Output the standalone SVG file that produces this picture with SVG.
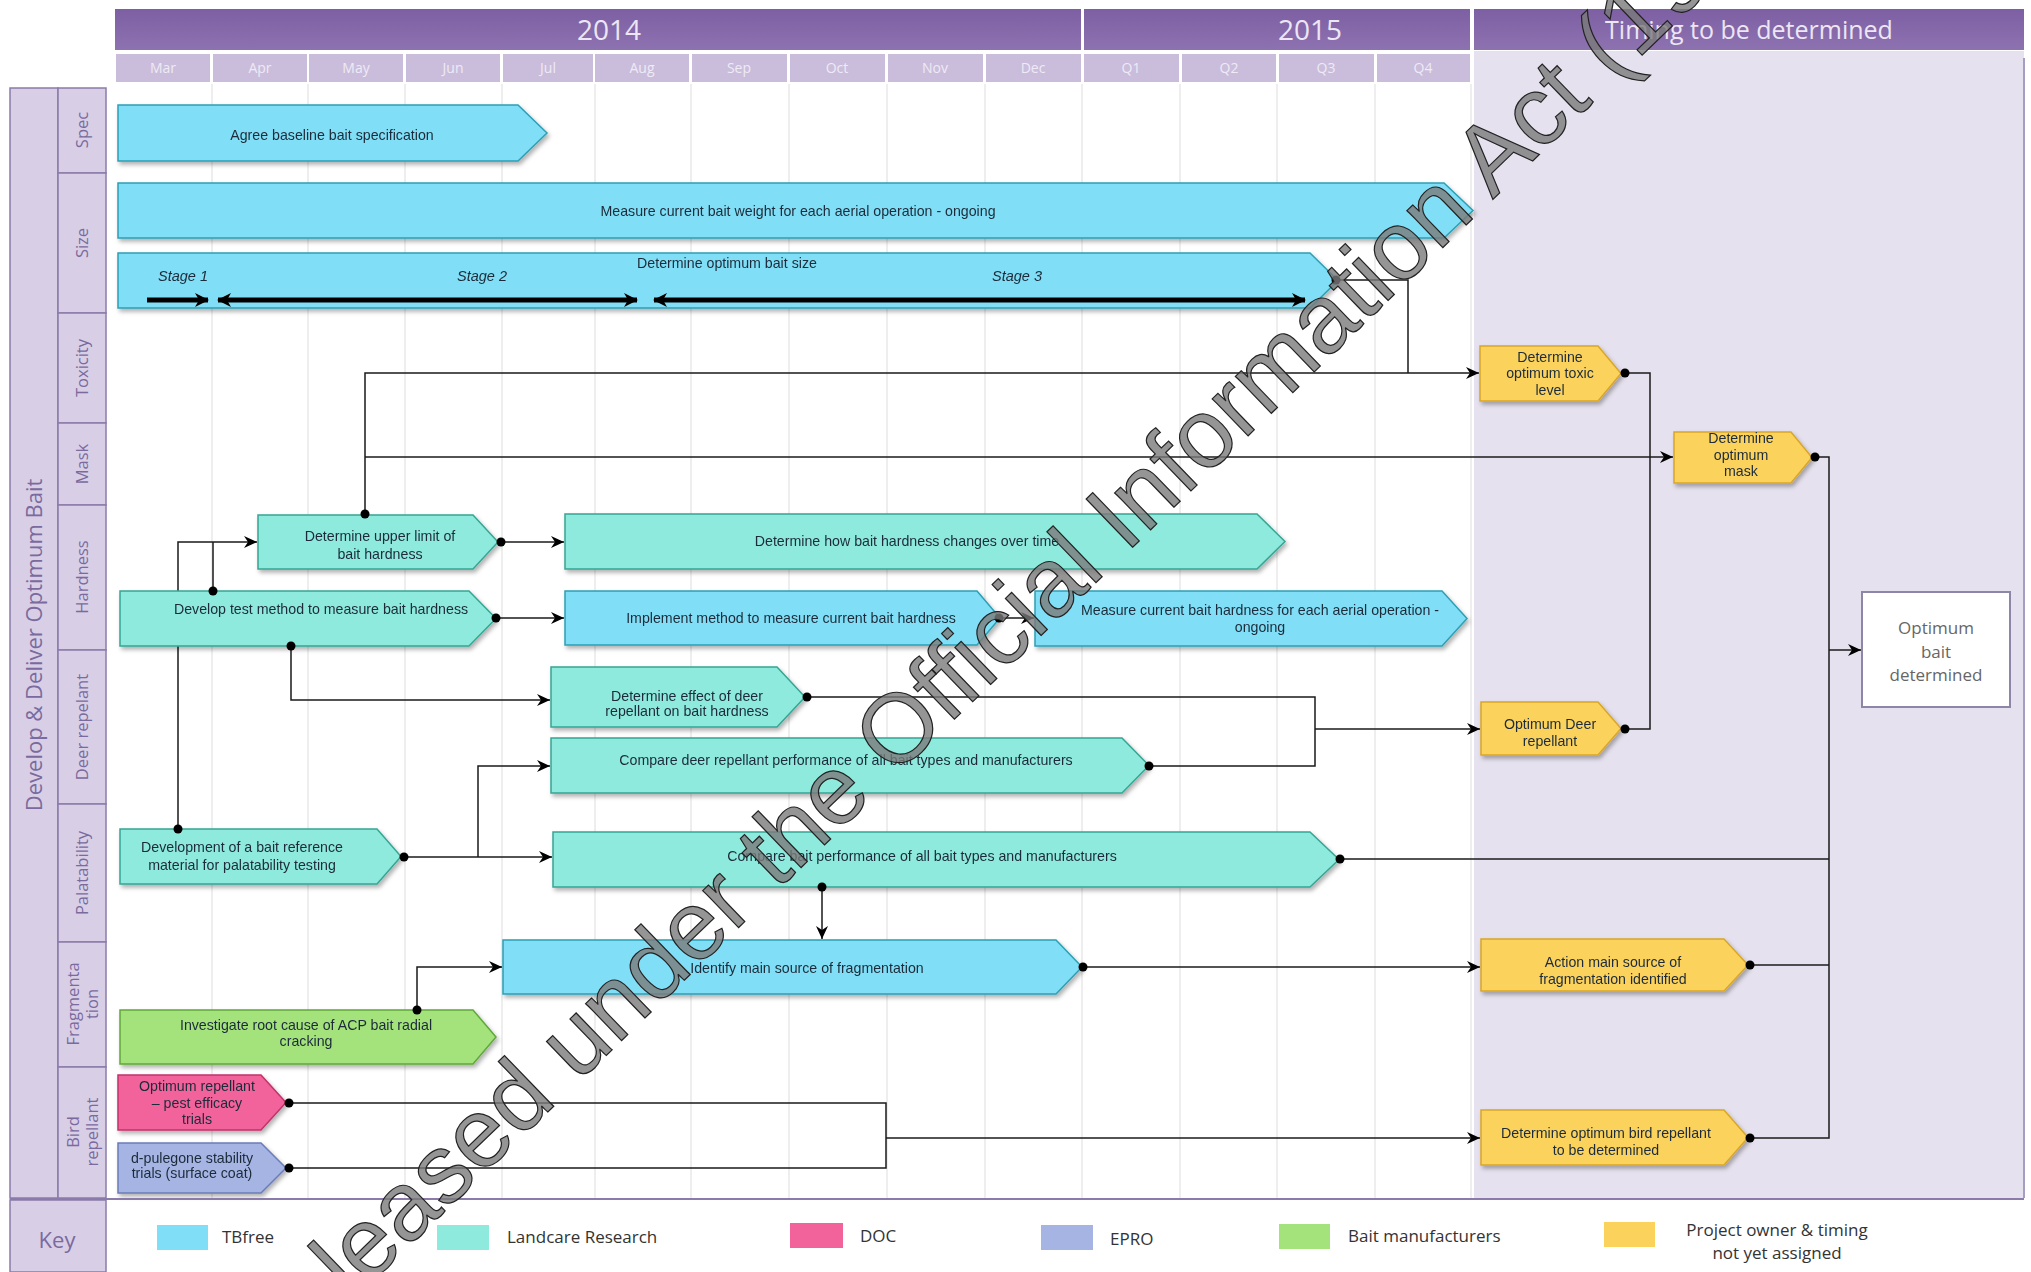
<svg xmlns="http://www.w3.org/2000/svg" width="2031" height="1272" viewBox="0 0 2031 1272">
<defs>
<style>
.tb{fill:#80dff6;stroke:#2d9fb4;stroke-width:1.5}
.lc{fill:#8eeadc;stroke:#36a594;stroke-width:1.5}
.gd{fill:#fbd35c;stroke:#d9a628;stroke-width:1.5}
.pk{fill:#f2639b;stroke:#c1336b;stroke-width:1.5}
.ep{fill:#a5b4e3;stroke:#6b7cb8;stroke-width:1.5}
.gr{fill:#a4e27b;stroke:#60a83b;stroke-width:1.5}
.nt{font-family:'Liberation Sans',Arial,sans-serif;font-size:14.2px;fill:#1c2b3a;text-anchor:middle}
.st{font-family:'Liberation Sans',Arial,sans-serif;font-size:14.5px;font-style:italic;fill:#1c2b3a;text-anchor:middle}
.ln{fill:none;stroke:#1a1a1a;stroke-width:1.5}
.ar{fill:none;stroke:#1a1a1a;stroke-width:1.5;marker-end:url(#ah)}
.stg{fill:none;stroke:#000;stroke-width:5}
.yr{font-family:'Open Sans',sans-serif;font-size:28px;fill:#ece6f5;text-anchor:middle}
.tm{font-family:'Open Sans',sans-serif;font-size:25px;fill:#ece6f5;text-anchor:middle}
.mo{font-family:'Open Sans',sans-serif;font-size:14px;fill:#efeaf6;text-anchor:middle}
.mc{fill:#c9bddb}
.lane{fill:#d8cfe7;stroke:#8a7bab;stroke-width:1.5}
.lt{font-family:'Open Sans',sans-serif;font-size:16.5px;fill:#7a6a9e;text-anchor:middle}
.big{font-family:'Open Sans',sans-serif;font-size:22px;fill:#7a6a9e;text-anchor:middle}
.kt{font-family:'Open Sans',sans-serif;font-size:17px;fill:#333;}
.ktc{font-family:'Open Sans',sans-serif;font-size:17px;fill:#333;text-anchor:middle}
.ob{font-family:'Open Sans',sans-serif;font-size:17px;fill:#666;text-anchor:middle}
.grid{stroke:#e3e3e3;stroke-width:1.2}
.sh{filter:url(#shadow)}
.wm{font-family:'Liberation Sans',Arial,sans-serif;font-size:97.5px;fill:#7a7a7a;fill-opacity:0.8;stroke:#222;stroke-width:1.2}
</style>
<filter id="shadow" x="-5%" y="-20%" width="115%" height="150%">
<feDropShadow dx="2" dy="3" stdDeviation="2" flood-color="#000" flood-opacity="0.3"/>
</filter>
<marker id="ah" markerWidth="14" markerHeight="14" refX="13" refY="7" orient="auto" markerUnits="userSpaceOnUse">
<path d="M0,1 L13,7 L0,13 L4,7 Z" fill="#000"/>
</marker>
<marker id="sa" markerWidth="14" markerHeight="14" refX="13" refY="7" orient="auto-start-reverse" markerUnits="userSpaceOnUse">
<path d="M0,0 L14,7 L0,14 L4,7 Z" fill="#000"/>
</marker>
<linearGradient id="hdr" x1="0" y1="0" x2="0" y2="1">
<stop offset="0" stop-color="#7d5fa3"/>
<stop offset="1" stop-color="#8d72b0"/>
</linearGradient>
</defs>
<rect x="0" y="0" width="2031" height="1272" fill="#ffffff"/>

<g id="timing-column">
<rect x="1474" y="51" width="550" height="1147" fill="#e5e1ee"/>
<line x1="2024" y1="58" x2="2024" y2="1198" stroke="#a79dbf" stroke-width="2"/>
</g>

<g id="grid">
<line class="grid" x1="212" y1="84" x2="212" y2="1198"/>
<line class="grid" x1="308" y1="84" x2="308" y2="1198"/>
<line class="grid" x1="405" y1="84" x2="405" y2="1198"/>
<line class="grid" x1="502" y1="84" x2="502" y2="1198"/>
<line class="grid" x1="595" y1="84" x2="595" y2="1198"/>
<line class="grid" x1="691" y1="84" x2="691" y2="1198"/>
<line class="grid" x1="789" y1="84" x2="789" y2="1198"/>
<line class="grid" x1="887" y1="84" x2="887" y2="1198"/>
<line class="grid" x1="985" y1="84" x2="985" y2="1198"/>
<line class="grid" x1="1082" y1="84" x2="1082" y2="1198"/>
<line class="grid" x1="1180" y1="84" x2="1180" y2="1198"/>
<line class="grid" x1="1277" y1="84" x2="1277" y2="1198"/>
<line class="grid" x1="1375" y1="84" x2="1375" y2="1198"/>
<line class="grid" x1="1471" y1="84" x2="1471" y2="1198"/>
</g>

<g id="header">
<rect x="115" y="9" width="966" height="41" fill="url(#hdr)"/>
<rect x="1084" y="9" width="386" height="41" fill="url(#hdr)"/>
<rect x="1474" y="9" width="550" height="41" fill="url(#hdr)"/>
<text class="yr" x="609" y="40">2014</text>
<text class="yr" x="1310" y="40">2015</text>
<text class="tm" x="1749" y="39">Timing to be determined</text>
<rect class="mc" x="116" y="54" width="94" height="28"/>
<rect class="mc" x="213" y="54" width="94" height="28"/>
<rect class="mc" x="309" y="54" width="94" height="28"/>
<rect class="mc" x="406" y="54" width="94" height="28"/>
<rect class="mc" x="503" y="54" width="90" height="28"/>
<rect class="mc" x="595" y="54" width="94" height="28"/>
<rect class="mc" x="692" y="54" width="95" height="28"/>
<rect class="mc" x="790" y="54" width="95" height="28"/>
<rect class="mc" x="888" y="54" width="95" height="28"/>
<rect class="mc" x="986" y="54" width="95" height="28"/>
<rect class="mc" x="1084" y="54" width="95" height="28"/>
<rect class="mc" x="1182" y="54" width="94" height="28"/>
<rect class="mc" x="1279" y="54" width="95" height="28"/>
<rect class="mc" x="1377" y="54" width="93" height="28"/>
<text class="mo" x="163" y="73">Mar</text>
<text class="mo" x="260" y="73">Apr</text>
<text class="mo" x="356" y="73">May</text>
<text class="mo" x="453" y="73">Jun</text>
<text class="mo" x="548" y="73">Jul</text>
<text class="mo" x="642" y="73">Aug</text>
<text class="mo" x="739" y="73">Sep</text>
<text class="mo" x="837" y="73">Oct</text>
<text class="mo" x="935" y="73">Nov</text>
<text class="mo" x="1033" y="73">Dec</text>
<text class="mo" x="1131" y="73">Q1</text>
<text class="mo" x="1229" y="73">Q2</text>
<text class="mo" x="1326" y="73">Q3</text>
<text class="mo" x="1423" y="73">Q4</text>
</g>

<g id="lanes">
<rect class="lane" x="10" y="88" width="48" height="1110"/>
<text class="big" transform="translate(42,645) rotate(-90)">Develop &amp; Deliver Optimum Bait</text>
<rect class="lane" x="58" y="88" width="48" height="85"/>
<rect class="lane" x="58" y="173" width="48" height="140"/>
<rect class="lane" x="58" y="313" width="48" height="110"/>
<rect class="lane" x="58" y="423" width="48" height="82"/>
<rect class="lane" x="58" y="505" width="48" height="145"/>
<rect class="lane" x="58" y="650" width="48" height="154"/>
<rect class="lane" x="58" y="804" width="48" height="138"/>
<rect class="lane" x="58" y="942" width="48" height="125"/>
<rect class="lane" x="58" y="1067" width="48" height="131"/>
<text class="lt" transform="translate(88,130) rotate(-90)">Spec</text>
<text class="lt" transform="translate(88,243) rotate(-90)">Size</text>
<text class="lt" transform="translate(88,368) rotate(-90)">Toxicity</text>
<text class="lt" transform="translate(88,464) rotate(-90)">Mask</text>
<text class="lt" transform="translate(88,577) rotate(-90)">Hardness</text>
<text class="lt" transform="translate(88,727) rotate(-90)">Deer repelant</text>
<text class="lt" transform="translate(88,873) rotate(-90)">Palatability</text>
<text class="lt" transform="translate(79,1004) rotate(-90)">Fragmenta</text>
<text class="lt" transform="translate(98,1004) rotate(-90)">tion</text>
<text class="lt" transform="translate(79,1132) rotate(-90)">Bird</text>
<text class="lt" transform="translate(98,1132) rotate(-90)">repellant</text>
</g>

<g id="connectors">
<path class="ln" d="M1338,280 H1408 V373"/>
<path class="ar" d="M365,514 V373 H1479"/>
<path class="ar" d="M365,457 H1673"/>
<path class="ar" d="M501,542 H564"/>
<path class="ar" d="M496,618 H564"/>
<path class="ar" d="M1000,618 H1034"/>
<path class="ar" d="M178,857 V542 H257"/>
<path class="ln" d="M213,591 V542"/>
<path class="ar" d="M291,646 V700 H550"/>
<path class="ar" d="M401,857 H552"/>
<path class="ar" d="M478,857 V766 H550"/>
<path class="ln" d="M805,697 H1315 V766 H1149"/>
<path class="ar" d="M1315,729 H1480"/>
<path class="ln" d="M1621,373 H1650 V729 H1621"/>
<path class="ln" d="M1812,457 H1829 V1138 H1748"/>
<path class="ar" d="M1829,650 H1861" stroke-width="2.5"/>
<path class="ln" d="M1339,859 H1829"/>
<path class="ar" d="M822,887 V939"/>
<path class="ar" d="M1082,967 H1480"/>
<path class="ln" d="M1748,965 H1829"/>
<path class="ar" d="M417,1010 V967 H502"/>
<path class="ln" d="M286,1103 H886 V1168 H286"/>
<path class="ar" d="M886,1138 H1480"/>
</g>

<g id="n-agree" class="sh"><polygon class="tb" points="118,105 518,105 547,133 518,161 118,161"/><text class="nt" x="332" y="140">Agree baseline bait specification</text></g>
<g id="n-weight" class="sh"><polygon class="tb" points="118,183 1444,183 1473,210.5 1444,238 118,238"/><text class="nt" x="798" y="216">Measure current bait weight for each aerial operation - ongoing</text></g>
<g id="n-size" class="sh"><polygon class="tb" points="118,253 1310,253 1338,280.5 1310,308 118,308"/><text class="nt" x="727" y="268">Determine optimum bait size</text>
<text class="st" x="183" y="281">Stage 1</text><text class="st" x="482" y="281">Stage 2</text><text class="st" x="1017" y="281">Stage 3</text>
<line class="stg" x1="147" y1="300" x2="208" y2="300" marker-end="url(#sa)"/>
<line class="stg" x1="218" y1="300" x2="637" y2="300" marker-start="url(#sa)" marker-end="url(#sa)"/>
<line class="stg" x1="654" y1="300" x2="1305" y2="300" marker-start="url(#sa)" marker-end="url(#sa)"/>
</g>
<g id="n-toxic" class="sh"><polygon class="gd" points="1480,346 1598,346 1621,373.5 1598,401 1480,401"/><text class="nt" x="1550" y="362">Determine</text><text class="nt" x="1550" y="378">optimum toxic</text><text class="nt" x="1550" y="395">level</text></g>
<g id="n-mask" class="sh"><polygon class="gd" points="1674,432 1791,432 1812,457.5 1791,483 1674,483"/><text class="nt" x="1741" y="443">Determine</text><text class="nt" x="1741" y="460">optimum</text><text class="nt" x="1741" y="476">mask</text></g>
<g id="n-optimum"><rect x="1862" y="592" width="148" height="115" fill="#fff" stroke="#8e86a6" stroke-width="2"/><text class="ob" x="1936" y="634">Optimum</text><text class="ob" x="1936" y="658">bait</text><text class="ob" x="1936" y="681">determined</text></g>
<g id="n-upper" class="sh"><polygon class="lc" points="258,515 473,515 498,542 473,569 258,569"/><text class="nt" x="380" y="541">Determine upper limit of</text><text class="nt" x="380" y="559">bait hardness</text></g>
<g id="n-develop" class="sh"><polygon class="lc" points="120,591 469,591 496,618.5 469,646 120,646"/><text class="nt" x="321" y="614">Develop  test method to measure bait hardness</text></g>
<g id="n-howhard" class="sh"><polygon class="lc" points="565,514 1257,514 1285,541.5 1257,569 565,569"/><text class="nt" x="907" y="546">Determine how bait hardness changes over time</text></g>
<g id="n-implement" class="sh"><polygon class="tb" points="565,591 977,591 1000,618 977,645 565,645"/><text class="nt" x="791" y="623">Implement method to measure current bait hardness</text></g>
<g id="n-measurehard" class="sh"><polygon class="tb" points="1035,591 1442,591 1467,618.5 1442,646 1035,646"/><text class="nt" x="1260" y="615">Measure current bait hardness for each aerial operation -</text><text class="nt" x="1260" y="632">ongoing</text></g>
<g id="n-deereffect" class="sh"><polygon class="lc" points="551,667 777,667 805,697 777,727 551,727"/><text class="nt" x="687" y="701">Determine effect of deer</text><text class="nt" x="687" y="716">repellant on bait hardness</text></g>
<g id="n-comparedeer" class="sh"><polygon class="lc" points="551,738 1122,738 1149,765.5 1122,793 551,793"/><text class="nt" x="846" y="765">Compare deer repellant performance of all bait types and manufacturers</text></g>
<g id="n-optdeer" class="sh"><polygon class="gd" points="1481,702 1598,702 1621,728.5 1598,755 1481,755"/><text class="nt" x="1550" y="729">Optimum Deer</text><text class="nt" x="1550" y="746">repellant</text></g>
<g id="n-reference" class="sh"><polygon class="lc" points="120,829 377,829 401,856.5 377,884 120,884"/><text class="nt" x="242" y="852">Development of a bait reference</text><text class="nt" x="242" y="870">material for palatability testing</text></g>
<g id="n-comparebait" class="sh"><polygon class="lc" points="553,832 1310,832 1339,859.5 1310,887 553,887"/><text class="nt" x="922" y="861">Compare bait performance of all bait types and manufacturers</text></g>
<g id="n-identify" class="sh"><polygon class="tb" points="503,940 1056,940 1082,967 1056,994 503,994"/><text class="nt" x="807" y="973">Identify main source of fragmentation</text></g>
<g id="n-investigate" class="sh"><polygon class="gr" points="120,1010 473,1010 496,1037 473,1064 120,1064"/><text class="nt" x="306" y="1030">Investigate root cause of ACP bait radial</text><text class="nt" x="306" y="1046">cracking</text></g>
<g id="n-action" class="sh"><polygon class="gd" points="1481,939 1724,939 1748,965 1724,991 1481,991"/><text class="nt" x="1613" y="967">Action main source of</text><text class="nt" x="1613" y="984">fragmentation identified</text></g>
<g id="n-optrep" class="sh"><polygon class="pk" points="118,1075 261,1075 286,1102.5 261,1130 118,1130"/><text class="nt" x="197" y="1091">Optimum repellant</text><text class="nt" x="197" y="1108">– pest efficacy</text><text class="nt" x="197" y="1124">trials</text></g>
<g id="n-pulegone" class="sh"><polygon class="ep" points="118,1143 261,1143 286,1168 261,1193 118,1193"/><text class="nt" x="192" y="1163">d-pulegone stability</text><text class="nt" x="192" y="1178">trials (surface coat)</text></g>
<g id="n-bird" class="sh"><polygon class="gd" points="1481,1110 1724,1110 1748,1137.5 1724,1165 1481,1165"/><text class="nt" x="1606" y="1138">Determine optimum bird repellant</text><text class="nt" x="1606" y="1155">to be determined</text></g>

<g id="dots" fill="#000">
<circle cx="1336" cy="280" r="4.5"/>
<circle cx="365" cy="514" r="4.5"/>
<circle cx="501" cy="542" r="4.5"/>
<circle cx="496" cy="618" r="4.5"/>
<circle cx="213" cy="591" r="4.5"/>
<circle cx="291" cy="646" r="4.5"/>
<circle cx="999" cy="618" r="4.5"/>
<circle cx="178" cy="829" r="4.5"/>
<circle cx="404" cy="857" r="4.5"/>
<circle cx="807" cy="697" r="4.5"/>
<circle cx="1149" cy="766" r="4.5"/>
<circle cx="1625" cy="373" r="4.5"/>
<circle cx="1625" cy="729" r="4.5"/>
<circle cx="1815" cy="457" r="4.5"/>
<circle cx="1340" cy="859" r="4.5"/>
<circle cx="822" cy="887" r="4.5"/>
<circle cx="1083" cy="967" r="4.5"/>
<circle cx="1750" cy="965" r="4.5"/>
<circle cx="417" cy="1010" r="4.5"/>
<circle cx="289" cy="1103" r="4.5"/>
<circle cx="289" cy="1168" r="4.5"/>
<circle cx="1750" cy="1138" r="4.5"/>
</g>

<g id="key">
<line x1="10" y1="1199" x2="2024" y2="1199" stroke="#8a7bab" stroke-width="2"/>
<rect class="lane" x="10" y="1200" width="96" height="72"/>
<text class="big" x="57" y="1248">Key</text>
<rect x="157" y="1225" width="51" height="25" fill="#80dff6"/>
<text class="kt" x="222" y="1243">TBfree</text>
<rect x="437" y="1225" width="52" height="25" fill="#8eeadc"/>
<text class="kt" x="507" y="1243">Landcare Research</text>
<rect x="790" y="1223" width="53" height="25" fill="#f2639b"/>
<text class="kt" x="860" y="1242">DOC</text>
<rect x="1041" y="1225" width="52" height="25" fill="#a5b4e3"/>
<text class="kt" x="1110" y="1245">EPRO</text>
<rect x="1279" y="1224" width="51" height="25" fill="#a4e27b"/>
<text class="kt" x="1348" y="1242">Bait manufacturers</text>
<rect x="1604" y="1222" width="51" height="25" fill="#fbd35c"/>
<text class="ktc" x="1777" y="1236">Project owner &amp; timing</text>
<text class="ktc" x="1777" y="1259">not yet assigned</text>
</g>

<g id="watermark">
<text class="wm" transform="translate(262,1388) rotate(-44)">Released under the Official Information Act (1982)</text>
</g>
</svg>
